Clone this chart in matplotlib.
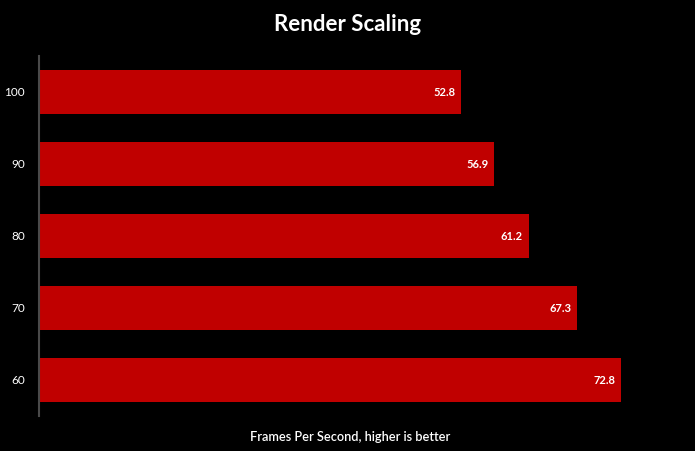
import matplotlib
matplotlib.use("Agg")
import matplotlib.pyplot as plt

# data
scales = ["100", "90", "80", "70", "60"]
fps = [52.8, 56.9, 61.2, 67.3, 72.8]

plt.rcParams['font.family'] = ['Lato', 'DejaVu Sans']

fig = plt.figure(figsize=(6.95, 4.51), dpi=100, facecolor='black')
ax = fig.add_axes([39 / 695, 35 / 451, 640 / 695, 360 / 451], facecolor='black')

ypos = list(range(len(scales)))[::-1]
ax.barh(ypos, fps, height=0.61, color='#C00000')

for y, v in zip(ypos, fps):
    ax.text(v - 0.7, y, f"{v:.1f}", color='white', fontsize=8, fontweight='bold',
            ha='right', va='center')

ax.set_xlim(0, 80)
ax.set_ylim(-0.5, len(scales) - 0.5)
ax.set_yticks(ypos)
ax.set_yticklabels(scales, color='white', fontsize=8.5)
ax.tick_params(axis='y', length=0, pad=10)
ax.set_xticks([])

for side in ['top', 'right', 'bottom']:
    ax.spines[side].set_visible(False)
ax.spines['left'].set_color('#4a4a4a')
ax.spines['left'].set_linewidth(1.5)

fig.text(350 / 695, 1 - 437 / 451, "Frames Per Second, higher is better", color='white',
         fontsize=9.2, fontweight='semibold', ha='center', va='center')
fig.suptitle("Render Scaling", color='white', fontsize=16, fontweight='bold', y=0.97)

fig.savefig("out.png", dpi=100, facecolor='black')
